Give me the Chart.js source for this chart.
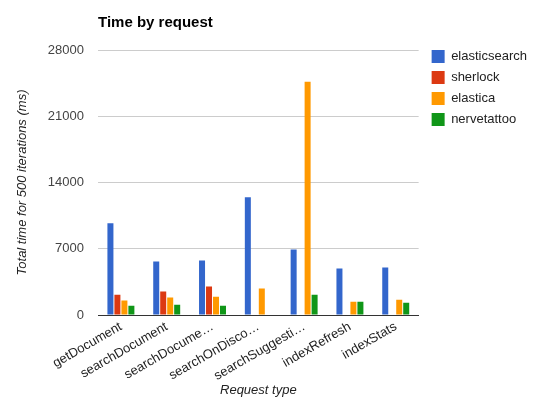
<!DOCTYPE html>
<html>
<head>
<meta charset="utf-8">
<script src="https://cdn.jsdelivr.net/npm/chart.js@4"></script>
<style>
html,body{margin:0;padding:0;background:#fff;}
#wrap{width:540px;height:399px;position:relative;}
</style>
</head>
<body>
<div id="wrap"><canvas id="c" width="540" height="399"></canvas></div>
<script>
const categories = ['getDocument','searchDocument','searchDocume\u2026','searchOnDisco\u2026','searchSuggesti\u2026','indexRefresh','indexStats'];
const seriesNames = ['elasticsearch','sherlock','elastica','nervetattoo'];
const elasticsearch = [9700, 5650, 5760, 12440, 6930, 4910, 5020];
const sherlock = [2150, 2470, 3000, null, null, null, null];
const elastica = [1520, 1840, 1940, 2790, 24640, 1410, 1620];
const nervetattoo = [990, 1090, 990, null, 2150, 1410, 1300];
const yTicks = [0, 7000, 14000, 21000, 28000];
const colors = ['#3366cc','#dc3912','#ff9900','#109618'];

const values = [elasticsearch, sherlock, elastica, nervetattoo];
const FONT = 'Arial, "Liberation Sans", sans-serif';

new Chart(document.getElementById('c'), {
  type: 'bar',
  data: {
    labels: categories,
    datasets: seriesNames.map((n,i)=>({
      label: n,
      data: values[i],
      backgroundColor: colors[i],
      borderWidth: 0,
      categoryPercentage: 0.61,
      barPercentage: 0.86
    }))
  },
  options: {
    responsive: false,
    devicePixelRatio: 1,
    animation: false,
    layout: { padding: { left: 11, right: 3, top: 0, bottom: 0 } },
    plugins: {
      tooltip: { enabled: false },
      title: {
        display: true,
        text: 'Time by request',
        align: 'start',
        fullSize: false,
        color: '#000',
        font: { family: FONT, size: 15, weight: 'bold' },
        padding: { top: 14, bottom: 18 }
      },
      legend: {
        position: 'right',
        align: 'start',
        maxWidth: 200,
        title: {
          display: true,
          text: ' ',
          font: { family: FONT, size: 10 },
          padding: { top: 30, bottom: 0 }
        },
        labels: {
          boxWidth: 13,
          boxHeight: 13,
          padding: 8,
          color: '#222',
          font: { family: FONT, size: 13 }
        }
      }
    },
    scales: {
      x: {
        grid: { display: false, drawTicks: false },
        border: { display: true, color: '#333', width: 1 },
        ticks: {
          color: '#222',
          font: { family: FONT, size: 13 },
          minRotation: 30,
          maxRotation: 30,
          autoSkip: false,
          padding: 4
        },
        title: {
          display: true,
          text: 'Request type',
          color: '#222',
          font: { family: FONT, size: 13, style: 'italic' },
          padding: { top: 4, bottom: 1 }
        },
        afterFit: s => { s.height = 84; }
      },
      y: {
        min: 0,
        max: 28000,
        afterBuildTicks: s => { s.ticks = yTicks.map(v => ({ value: v })); },
        grid: { color: '#cccccc', drawTicks: false },
        border: { display: false },
        ticks: {
          color: '#444',
          font: { family: FONT, size: 13 },
          padding: 14,
          callback: v => String(v)
        },
        title: {
          display: true,
          text: 'Total time for 500 iterations (ms)',
          color: '#222',
          font: { family: FONT, size: 13, style: 'italic' },
          padding: { top: 4, bottom: 4 }
        },
        afterFit: s => { s.width = 87; }
      },
      yRight: {
        position: 'right',
        display: true,
        grid: { display: false, drawTicks: false },
        border: { display: false },
        ticks: { display: false },
        afterFit: s => { s.width = 5; }
      }
    }
  }
});
</script>
</body>
</html>
